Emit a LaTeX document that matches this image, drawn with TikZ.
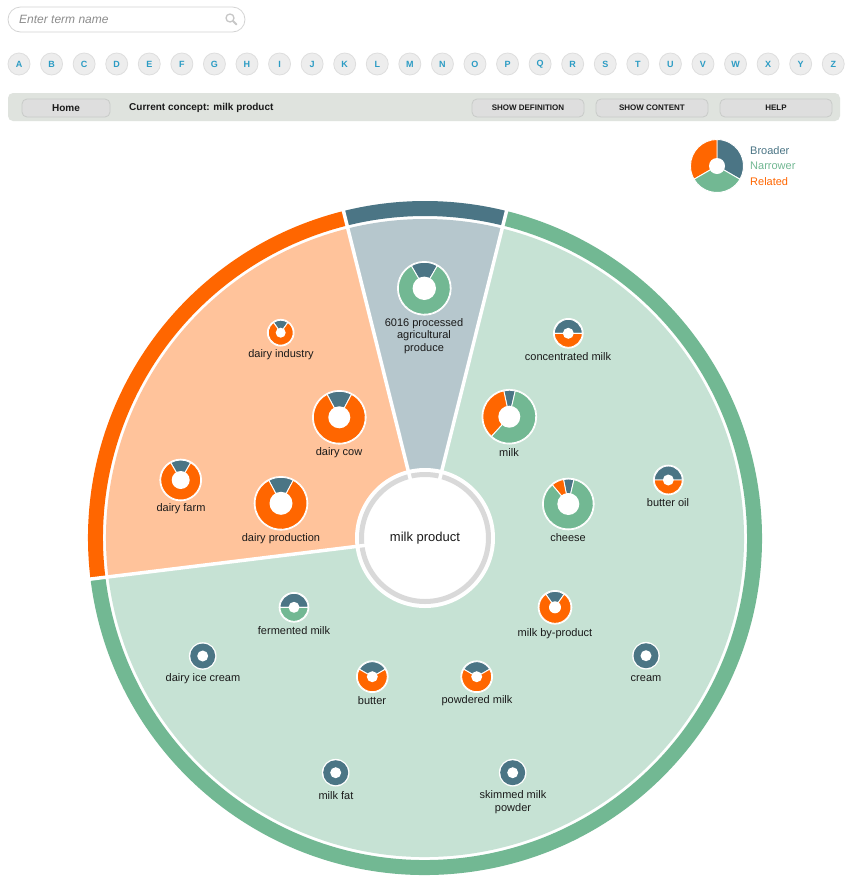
\documentclass[tikz,border=0pt]{standalone}
\usepackage{fontspec}
\setmainfont{Liberation Sans}
\definecolor{brd}{HTML}{4B7585}
\definecolor{nar}{HTML}{72B893}
\definecolor{rel}{HTML}{FF6600}
\definecolor{relfill}{HTML}{FFC39B}
\definecolor{brdfill}{HTML}{B6C7CD}
\definecolor{narfill}{HTML}{C6E2D4}
\definecolor{ringgray}{HTML}{D9D9D9}
\definecolor{lettercol}{HTML}{2C9CC4}
\definecolor{barcol}{HTML}{DFE3DE}
\definecolor{btncol}{HTML}{DEDEDE}
\definecolor{btnline}{HTML}{C8CBC8}
\definecolor{txt}{HTML}{1A1A1A}
\newcommand\mydonut[5]{%
  \fill[white] (#1,#2) circle ({#3+1.3});
  \foreach \c/\a/\b in {#5} {
    \filldraw[fill=\c, draw=white, line width=0.9pt] (#1,#2) -- ++({-(\a)}:#3)
      arc[start angle={-(\a)}, end angle={-(\b)}, radius=#3] -- cycle;
  }
  \fill[white] (#1,#2) circle (#4);
}
\newcommand\plaindonut[4]{%
  \fill[white] (#1,#2) circle ({#3+1.3});
  \fill[brd] (#1,#2) circle (#3);
  \fill[white] (#1,#2) circle (#4);
}
\tikzset{
  lbl/.style={font=\fontsize{11}{12.5}\selectfont, text=txt, inner sep=0pt, align=center},
  letterbtn/.style={circle, fill=black!7, draw=black!13, line width=0.8pt, minimum size=22pt, inner sep=0pt,
     text=lettercol, font=\fontsize{9}{9}\selectfont\bfseries},
  barbtn/.style={rounded corners=5pt, fill=btncol, draw=btnline, line width=0.8pt},
  btntext/.style={font=\fontsize{8}{8}\selectfont\bfseries, text=txt, inner sep=0pt},
  legtext/.style={font=\fontsize{11}{11}\selectfont, inner sep=0pt, anchor=west}
}
\begin{document}
\begin{tikzpicture}[x=1pt,y=-1pt]
\useasboundingbox (0,0) rectangle (850,884);
\fill[white] (0,0) rectangle (850,884);
% search box
\draw[black!17, fill=white, line width=0.8pt, rounded corners=12.5pt] (8,7) rectangle (245,32);
\node[font=\fontsize{12}{12}\selectfont\itshape, text=black!45, anchor=west, inner sep=0pt] (search) at (19,19) {Enter term name};
\draw[black!22, line width=1.3pt] (230,18) circle (4);
\draw[black!22, line width=1.8pt, line cap=round] (233,21) -- (236.5,24.5);
% letters
\foreach \L [count=\i from 0] in {A,B,C,D,E,F,G,H,I,J,K,L,M,N,O,P,Q,R,S,T,U,V,W,X,Y,Z}
  \node[letterbtn] (let\L) at ({19+32.57*\i},64) {\L};
% toolbar
\fill[barcol, rounded corners=5pt] (8,93) rectangle (840,121);
\draw[barbtn] (22,99) rectangle (110,117);
\node[btntext, font=\fontsize{10}{10}\selectfont\bfseries] (home) at (66,108) {Home};
\node[btntext, font=\fontsize{10}{10}\selectfont\bfseries, anchor=west] (cur) at (129,108) {Current concept: milk product};
\draw[barbtn] (472,99) rectangle (584,117);
\node[btntext] (sdef) at (528,108) {SHOW DEFINITION};
\draw[barbtn] (596,99) rectangle (708,117);
\node[btntext] (scon) at (652,108) {SHOW CONTENT};
\draw[barbtn] (720,99) rectangle (832,117);
\node[btntext] (help) at (776,108) {HELP};
% legend
\mydonut{717}{166}{26.5}{8}{brd/-30/90, rel/90/210, nar/210/330}
\node[legtext, text=brd] (lb) at (750,150.5) {Broader};
\node[legtext, text=nar] (ln) at (750,166) {Narrower};
\node[legtext, text=rel] (lr) at (750,182) {Related};
% main sectors
\coordinate (C) at (425,538);
\fill[relfill] (C) -- ++(-104:319) arc[start angle=-104, end angle=-187, radius=319] -- cycle;
\fill[brdfill] (C) -- ++(-76:319) arc[start angle=-76, end angle=-104, radius=319] -- cycle;
\fill[narfill] (C) -- ++(-187:319) arc[start angle=-187, end angle=-436, radius=319] -- cycle;
\draw[rel, line width=15pt] (C) ++(-104:329.5) arc[start angle=-104, end angle=-187, radius=329.5];
\draw[brd, line width=15pt] (C) ++(-76:329.5) arc[start angle=-76, end angle=-104, radius=329.5];
\draw[nar, line width=15pt] (C) ++(-187:329.5) arc[start angle=-187, end angle=-436, radius=329.5];
% centre
\fill[white] (C) circle (70);
\draw[ringgray, line width=5pt] (C) circle (63.5);
\foreach \a in {76,104,187}
  \draw[white, line width=3.5pt] (C) -- ++({-\a}:346);
\node[font=\fontsize{13}{13}\selectfont, text=txt, inner sep=0pt] (centre) at (C) {milk product};
% donuts
\mydonut{424.3}{288.3}{26}{11.7}{brd/60/120, nar/120/420}
\mydonut{280.7}{332.7}{12.5}{5}{brd/55/125, rel/125/415}
\mydonut{339.3}{417.3}{26}{11}{brd/62/118, rel/118/422}
\mydonut{180.7}{480}{20}{9}{brd/60/120, rel/120/420}
\mydonut{281}{503.3}{26}{11.5}{brd/62/118, rel/118/422}
\mydonut{568.3}{333.3}{14}{5.5}{brd/0/180, rel/180/360}
\mydonut{509.3}{416.7}{26.5}{11}{brd/77/102, rel/102/228, nar/228/437}
\mydonut{568.3}{504}{25}{11}{brd/77/101, rel/101/130, nar/130/437}
\mydonut{668.3}{480}{14}{5.5}{brd/0/180, rel/180/360}
\mydonut{294}{607.3}{14}{5.5}{brd/0/180, nar/180/360}
\plaindonut{202.7}{656}{12.5}{5.5}
\mydonut{372.3}{676.7}{15}{5.5}{brd/30/150, rel/150/390}
\mydonut{476.7}{676.7}{15}{5.5}{brd/30/150, rel/150/390}
\mydonut{555}{607.3}{16}{6}{brd/55/125, rel/125/415}
\plaindonut{646}{655.7}{12.5}{5.5}
\plaindonut{512.7}{772.7}{12.5}{5.5}
\plaindonut{335.7}{772.7}{12.5}{5.5}
% labels
\node[lbl] (t6016) at (424,336) {6016 processed\\agricultural\\produce};
\node[lbl] (tdi) at (281,355) {dairy industry};
\node[lbl] (tdc) at (339,453) {dairy cow};
\node[lbl] (tdf) at (181,509) {dairy farm};
\node[lbl] (tdp) at (281,539) {dairy production};
\node[lbl] (tcm) at (568,356.5) {concentrated milk};
\node[lbl] (tmilk) at (509,453) {milk};
\node[lbl] (tch) at (568,538) {cheese};
\node[lbl] (tbo) at (668,502.7) {butter oil};
\node[lbl] (tfm) at (294,631) {fermented milk};
\node[lbl] (tdic) at (203,678.3) {dairy ice cream};
\node[lbl] (tbu) at (372,701) {butter};
\node[lbl] (tpm) at (477,701) {powdered milk};
\node[lbl] (tmbp) at (555,633.3) {milk by-product};
\node[lbl] (tcr) at (646,678.3) {cream};
\node[lbl] (tsmp) at (513,802) {skimmed milk\\powder};
\node[lbl] (tmf) at (336,795.3) {milk fat};
\end{tikzpicture}
\end{document}
